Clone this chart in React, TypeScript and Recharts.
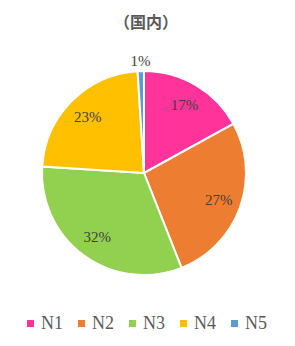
import { PieChart, Pie, Cell, Legend } from "recharts";

const categories = ["N1", "N2", "N3", "N4", "N5"];
const shares = [17, 27, 32, 23, 1];
const colors = ["#FF3399", "#ED7D31", "#92D050", "#FFC000", "#5B9BD5"];

const data = categories.map((name, i) => ({ name, value: shares[i] }));

const RADIAN = Math.PI / 180;

const renderLabel = (props: any) => {
  const { cx, cy, midAngle, outerRadius, value } = props;
  // tiny slices get their label pushed outside the pie
  const r = value < 3 ? outerRadius + 10 : outerRadius * 0.78;
  const x = cx + r * Math.cos(-midAngle * RADIAN);
  const y = cy + r * Math.sin(-midAngle * RADIAN);
  return (
    <text
      x={x}
      y={y}
      fill="#404040"
      fontSize={15}
      fontFamily="'Liberation Serif', serif"
      textAnchor="middle"
      dominantBaseline="central">
      {value}%
    </text>
  );
};

const renderLegend = () => (
  <div
    style={{
      display: "flex",
      justifyContent: "flex-start",
      paddingLeft: 27,
      fontFamily: "'Liberation Serif', serif",
      fontSize: 18,
      color: "#595959",
    }}>
    {categories.map((c, i) => (
      <div key={c} style={{ display: "flex", alignItems: "center", width: 51 }}>
        <span
          style={{
            width: 7,
            height: 7,
            background: colors[i],
            marginRight: 7,
            display: "inline-block",
          }}
        />
        {c}
      </div>
    ))}
  </div>
);

export default function App() {
  return (
    <div
      style={{
        position: "absolute",
        left: 0,
        top: 0,
        width: 295,
        height: 346,
        background: "#fff",
      }}>
      <div
        style={{
          position: "absolute",
          top: 9,
          left: 0,
          width: 292,
          textAlign: "center",
          fontFamily: "'Noto Sans CJK JP', sans-serif",
          fontWeight: 700,
          fontSize: 16,
          color: "#595959",
        }}>
        （国内）
      </div>
      <PieChart width={295} height={346} margin={{ top: 0, right: 0, bottom: 0, left: 0 }}>
        <Pie
          data={data}
          dataKey="value"
          nameKey="name"
          cx={144}
          cy={173}
          outerRadius={102}
          startAngle={90}
          endAngle={-270}
          stroke="#fff"
          strokeWidth={2}
          label={renderLabel}
          labelLine={false}
          isAnimationActive={false}>
          {data.map((d, i) => (
            <Cell key={d.name} fill={colors[i]} />
          ))}
        </Pie>
        <Legend
          content={renderLegend}
          verticalAlign="bottom"
          wrapperStyle={{ bottom: 12, left: 0, width: 295 }}
        />
      </PieChart>
    </div>
  );
}
